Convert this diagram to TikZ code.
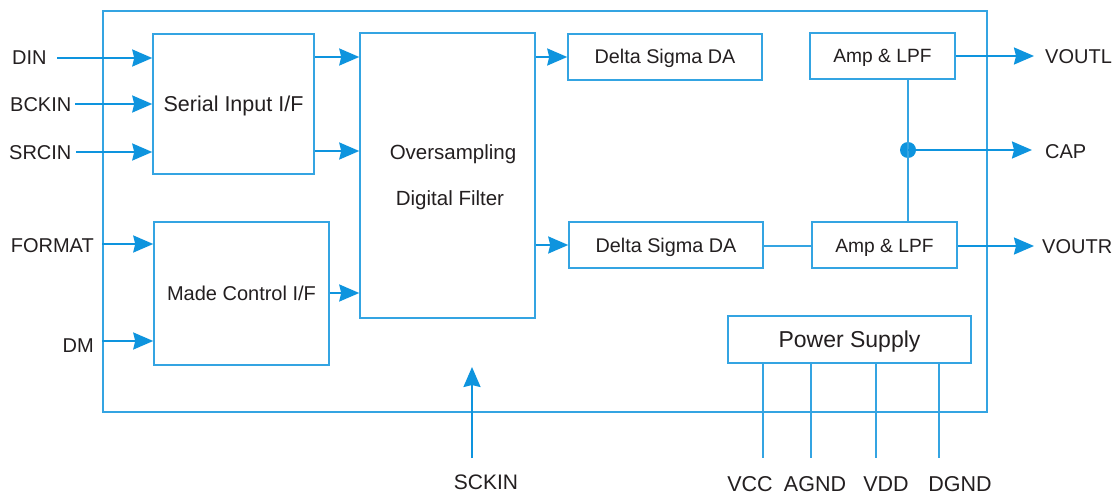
\documentclass[tikz,border=0pt]{standalone}
\usepackage{fontspec}
\setmainfont{Liberation Sans}
\usetikzlibrary{arrows.meta,calc}
\definecolor{ln}{RGB}{14,148,222}
\definecolor{bx}{RGB}{52,164,226}
\definecolor{tx}{RGB}{35,31,32}
\begin{document}
\begin{tikzpicture}[x=1pt,y=-1pt,
  box/.style={draw=bx,line width=1.5pt,inner sep=0pt,text=tx,text height=14pt,text depth=0pt},
  arr/.style={draw=ln,line width=2pt,-{Stealth[inset=2pt,length=20pt,width=17pt]}},
  wire/.style={draw=bx,line width=1.5pt},
  pin/.style={text=tx,inner sep=0pt,text height=14pt,text depth=0pt,font=\fontsize{20}{22}\selectfont},
  bpin/.style={text=tx,inner sep=0pt,text height=15pt,text depth=0pt,font=\fontsize{21.5}{23}\selectfont},
  dot/.style={circle,fill=ln,inner sep=0pt,minimum size=16pt}]
\useasboundingbox (0,0) rectangle (1120,495);
\fill[white] (0,0) rectangle (1120,495);

% chip outline
\node[box,minimum width=884pt,minimum height=401pt] (chip) at (545,211.5) {};

% blocks
\node[box,minimum width=161pt,minimum height=140pt,font=\fontsize{21.5}{22}\selectfont] (ser) at (233.5,104) {Serial Input I/F};
\node[box,minimum width=175pt,minimum height=285pt] (ovs) at (447.5,175.5) {};
\node[text=tx,inner sep=0pt,text height=14pt,text depth=0pt,font=\fontsize{20.5}{22}\selectfont] (ovt1) at (453,152) {Oversampling};
\node[text=tx,inner sep=0pt,text height=14pt,text depth=0pt,font=\fontsize{20.5}{22}\selectfont] (ovt2) at (450,198) {Digital Filter};
\node[box,minimum width=175pt,minimum height=143pt,font=\fontsize{20}{22}\selectfont] (mad) at (241.5,293.5) {Made Control I/F};
\node[box,minimum width=194pt,minimum height=46pt,font=\fontsize{19.8}{22}\selectfont] (dsa) at (665,57) {Delta Sigma DA};
\node[box,minimum width=145pt,minimum height=46pt,font=\fontsize{19.2}{22}\selectfont] (ampa) at (882.5,56) {Amp \& LPF};
\node[box,minimum width=194pt,minimum height=46pt,font=\fontsize{19.8}{22}\selectfont] (dsb) at (666,245) {Delta Sigma DA};
\node[box,minimum width=145pt,minimum height=46pt,font=\fontsize{19.2}{22}\selectfont] (ampb) at (884.5,245) {Amp \& LPF};
\node[box,minimum width=243pt,minimum height=47pt,text height=15pt,font=\fontsize{23}{25}\selectfont] (pwr) at (849.5,339.5) {Power Supply};

% pin labels
\node[pin,anchor=west] (din) at (12,58) {DIN};
\node[pin,anchor=west] (bck) at (10,104) {BCKIN};
\node[pin,anchor=west] (src) at (9,152) {SRCIN};
\node[pin,anchor=east] (fmt) at (94,245) {FORMAT};
\node[pin,anchor=east] (dm) at (94,345) {DM};
\node[pin,font=\fontsize{21}{22}\selectfont] (sck) at (486,482) {SCKIN};
\node[pin,anchor=west] (vl) at (1045,57) {VOUTL};
\node[pin,anchor=west] (cap) at (1045,151) {CAP};
\node[pin,anchor=west] (vr) at (1042,246) {VOUTR};
\node[bpin] (vcc) at (750,484) {VCC};
\node[bpin] (agnd) at (815,484) {AGND};
\node[bpin] (vdd) at (886,484) {VDD};
\node[bpin] (dgnd) at (960,484) {DGND};

% input connector start points
\coordinate (dinS) at (57,58);
\coordinate (bckS) at (75,104);
\coordinate (srcS) at (76,152);
\coordinate (sckS) at (472,458);
\coordinate (sckE) at (472,367);

\draw[arr] (dinS) -- (dinS -| ser.west);
\draw[arr] (bckS) -- (bckS -| ser.west);
\draw[arr] (srcS) -- (srcS -| ser.west);
\draw[arr] (chip.west |- 0,244) -- (mad.west |- 0,244);
\draw[arr] (chip.west |- 0,341) -- (mad.west |- 0,341);
\draw[arr] (ser.east |- 0,57) -- (ovs.west |- 0,57);
\draw[arr] (ser.east |- 0,151) -- (ovs.west |- 0,151);
\draw[arr] (mad.east |- 0,293) -- (ovs.west |- 0,293);
\draw[arr] (ovs.east |- dsa.west) -- (dsa.west);
\draw[arr] (ovs.east |- dsb.west) -- (dsb.west);
\draw[arr] (sckS) -- (sckE);

% analog section
\draw[wire] (dsb.east |- 0,246) -- (ampb.west |- 0,246);
\node[dot] (j) at (908,150) {};
\draw[wire] (j |- ampa.south) -- (j |- ampb.north);
\draw[arr] (j.center) -- (1032,150);
\draw[arr] (ampa.east |- 0,56) -- (1034,56);
\draw[arr] (ampb.east |- 0,246) -- (1034,246);

% power pins
\foreach \x/\n in {763/a,811/b,876/c,939/d}{
  \coordinate (pe\n) at (\x,458);
  \draw[wire] (pwr.south -| pe\n) -- (pe\n);
}
\end{tikzpicture}
\end{document}
